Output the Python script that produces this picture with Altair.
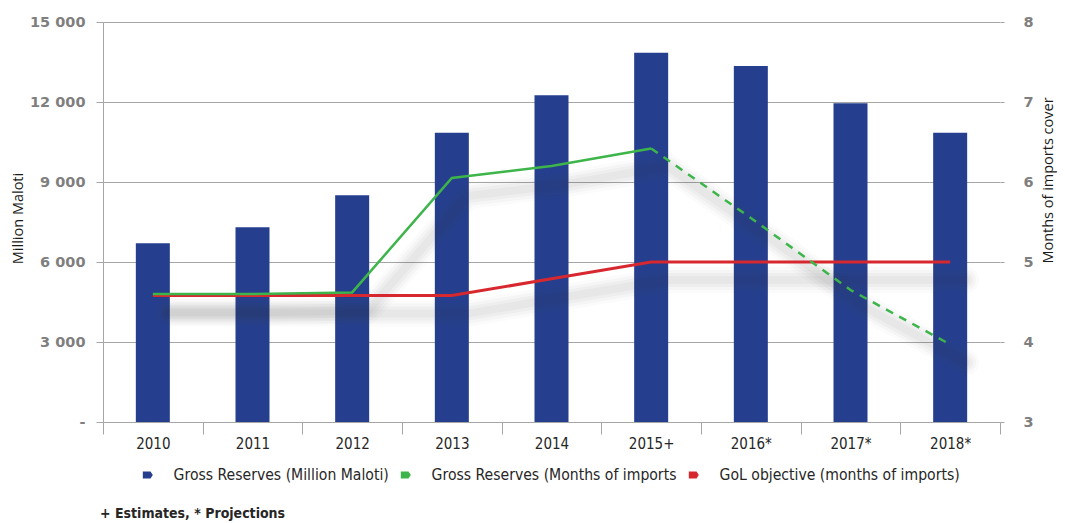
import altair as alt
import pandas as pd

years = ["2010", "2011", "2012", "2013", "2014", "2015+", "2016*", "2017*", "2018*"]
reserves_mm = [6700, 7300, 8500, 10850, 12250, 13850, 13350, 11950, 10850]
months_cover = [4.60, 4.60, 4.62, 6.05, 6.20, 6.42, 5.55, 4.65, 3.97]
gol_objective = [4.58, 4.58, 4.58, 4.58, 4.79, 5.00, 5.00, 5.00, 5.00]
series_names = ["Gross Reserves (Million Maloti)",
                "Gross Reserves (Months of imports",
                "GoL objective (months of imports)"]
series_colors = ["#253f8e", "#3db54a", "#d7282f"]
left_ticks = [0, 3000, 6000, 9000, 12000, 15000]
right_ticks = [3, 4, 5, 6, 7, 8]

df = pd.DataFrame({
    "year": years,
    "idx": list(range(len(years))),
    "reserves": reserves_mm,
    "months": months_cover,
    "gol": gol_objective,
    "series": series_names[0],
})

GRID = "#a6a6a6"
COND = "DejaVu Sans Condensed"
NUMF = "DejaVu Sans"
TXT = "#262626"
GREEN = series_colors[1]
RED = series_colors[2]

x_enc = alt.X(
    "year:N", sort=years, title=None,
    scale=alt.Scale(paddingInner=0, paddingOuter=0),
    axis=alt.Axis(labelAngle=0, tickBand="extent", domainColor=GRID, tickColor=GRID,
                  tickSize=12, labelFont=COND, labelFontSize=15, labelColor=TXT,
                  labelPadding=2, grid=False),
)

left_axis = alt.Axis(
    values=left_ticks, title="Million Maloti",
    labelExpr="datum.value == 0 ? '-' : replace(format(datum.value, ','), ',', ' ')",
    grid=True, gridColor=GRID, domainColor=GRID, tickColor=GRID, tickSize=7,
    labelPadding=11, labelFont=NUMF, labelFontWeight="bold", labelFontSize=14.5,
    labelColor="#7f7f7f", titleFont="Open Sans", titleFontSize=14.5,
    titleFontWeight="normal", titleColor="#1a1a1a", titleAngle=270,
    titleX=-85, titleY=196, titleAlign="center", titleBaseline="middle",
)

right_axis = alt.Axis(
    orient="right", values=right_ticks, title="Months of imports cover",
    grid=False, domain=False, tickColor=GRID, tickSize=4,
    labelPadding=19, labelFont=NUMF, labelFontWeight="bold", labelFontSize=14.5,
    labelColor="#7f7f7f", titleFont="Open Sans", titleFontSize=14.5,
    titleFontWeight="normal", titleColor="#1a1a1a", titleAngle=270, titleX=48,
    titleY=158, titleAlign="center", titleBaseline="middle",
)

right_scale = alt.Scale(domain=[3, 8], nice=False)


def yr(field):
    return alt.Y(f"{field}:Q", scale=right_scale, axis=right_axis)


base = alt.Chart(df)

bars = base.mark_bar(size=34).encode(
    x=x_enc,
    y=alt.Y("reserves:Q", scale=alt.Scale(domain=[0, 15000], nice=False), axis=left_axis),
    color=alt.Color(
        "series:N",
        scale=alt.Scale(domain=series_names, range=series_colors),
        legend=alt.Legend(
            title=None, orient="none", legendX=37, legendY=445, direction="horizontal",
            symbolType="M-1,-0.7L0.55,-0.7L1,0L0.55,0.7L-1,0.7Z", symbolSize=100,
            symbolStrokeWidth=0, labelFont=COND, labelFontSize=15.6, labelColor=TXT,
            labelOffset=18, columnPadding=9, labelLimit=500,
        ),
    ),
)

shadow_layers = []
for w, o in [(26, 0.025), (20, 0.03), (14, 0.035), (8, 0.035)]:
    for fld in ["months", "gol"]:
        shadow_layers.append(
            base.mark_line(color="#444444", strokeWidth=w, opacity=o, xOffset=16,
                           yOffset=18, strokeCap="round", strokeJoin="round")
            .encode(x=x_enc, y=yr(fld))
        )

red_line = base.mark_line(color=RED, strokeWidth=3).encode(x=x_enc, y=yr("gol"))
green_solid = base.transform_filter("datum.idx <= 5").mark_line(
    color=GREEN, strokeWidth=2.5).encode(x=x_enc, y=yr("months"))
green_dash = base.transform_filter("datum.idx >= 5").mark_line(
    color=GREEN, strokeWidth=2.5, strokeDash=[8, 7]).encode(x=x_enc, y=yr("months"))

right_layer = alt.layer(*shadow_layers, red_line, green_solid, green_dash)

chart = alt.layer(bars, right_layer).resolve_scale(y="independent").properties(
    width=897, height=400,
    background="white",
    autosize=alt.AutoSizeParams(type="none"),
    padding={"left": 95, "top": 14, "right": 57, "bottom": 101},
    title=alt.Title("+ Estimates, * Projections", orient="bottom", anchor="start",
                    font=COND, fontSize=14, fontWeight="bold", color=TXT,
                    offset=23, dx=-3, frame="group"),
).configure_view(stroke=None, strokeWidth=0)

chart.save("out.html", embed_options={"renderer": "svg", "actions": False})
